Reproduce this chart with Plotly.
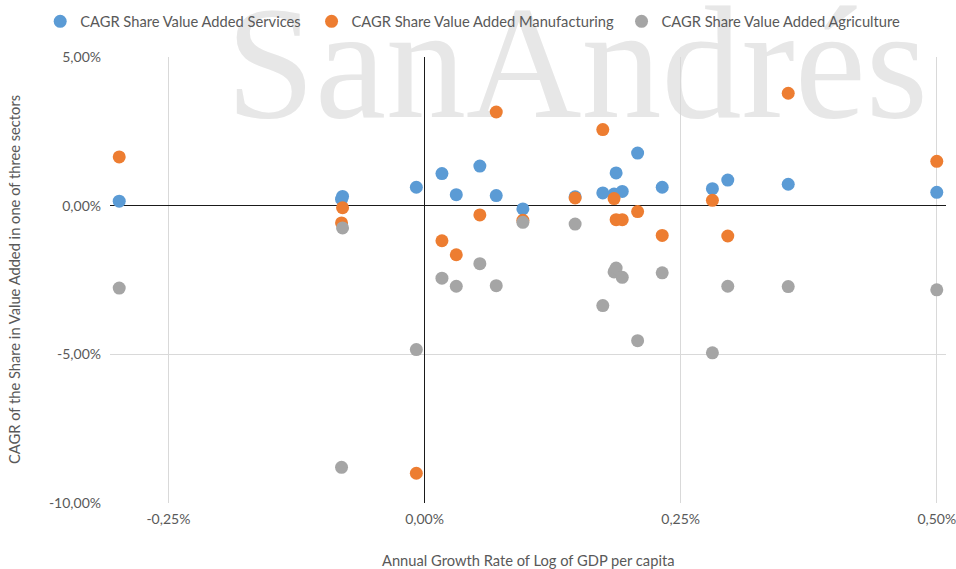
import plotly.graph_objects as go

# Annual growth rate of log GDP per capita (%), one value per country
gdp_growth = [-0.298, -0.080, -0.081, -0.008, 0.017, 0.031, 0.054, 0.070, 0.096, 0.147,
              0.174, 0.185, 0.187, 0.193, 0.208, 0.232, 0.281, 0.296, 0.355, 0.500]

# CAGR of the share in value added (%), per sector
cagr_services = [0.15, 0.31, 0.22, 0.62, 1.08, 0.37, 1.33, 0.34, -0.11, 0.30,
                 0.43, 0.39, 1.10, 0.48, 1.77, 0.62, 0.57, 0.86, 0.72, 0.45]
cagr_manufacturing = [1.64, -0.07, -0.58, -9.00, -1.18, -1.65, -0.31, 3.15, -0.49, 0.26,
                      2.56, 0.24, -0.47, -0.47, -0.20, -1.00, 0.18, -1.02, 3.78, 1.49]
cagr_agriculture = [-2.77, -0.75, -8.80, -4.84, -2.44, -2.71, -1.95, -2.69, -0.56, -0.62,
                    -3.36, -2.23, -2.10, -2.41, -4.54, -2.26, -4.95, -2.71, -2.72, -2.83]

series_names = ["CAGR Share Value Added Services",
                "CAGR Share Value Added Manufacturing",
                "CAGR Share Value Added Agriculture"]
series_colors = ["#5B9BD5", "#ED7D31", "#A5A5A5"]

x_tick_vals = [-0.25, 0.0, 0.25, 0.50]
x_tick_text = ["-0,25%", "0,00%", "0,25%", "0,50%"]
y_tick_vals = [-10, -5, 0, 5]
y_tick_text = ["-10,00%", "-5,00%", "0,00%", "5,00%"]

TEXT = "#595959"
FONT = "Lato"
LABEL_SIZE = 14.7

# each series gets its own legend box so the three entries sit at fixed spots
legend_ids = ["legend", "legend2", "legend3"]
legend_x = [-0.0835, 0.2411, 0.6119]

fig = go.Figure()
for name, ys, col, lid in zip(series_names,
                              [cagr_services, cagr_manufacturing, cagr_agriculture],
                              series_colors, legend_ids):
    fig.add_trace(go.Scatter(
        x=gdp_growth, y=ys, mode="markers", name=name, legend=lid,
        marker=dict(size=13, color=col, line=dict(width=0)),
    ))

# faint institutional wordmark behind the grid
shift = 13 / 446
fig.add_shape(
    type="rect", xref="paper", yref="paper",
    x0=(232 - 110) / 836, x1=(922 - 110) / 836,
    y0=(503 - 117) / 446 + shift, y1=(503 - 0) / 446 + shift,
    line=dict(width=0), fillcolor="rgba(0,0,0,0)", layer="below",
    label=dict(text="SanAndrés", textposition="middle center",
               font=dict(family="Liberation Serif", size=160, color="#e7e7e7")),
)

fig.add_annotation(
    text="CAGR of the Share in Value Added in one of three sectors",
    xref="paper", yref="paper", x=0, y=0.5, xshift=-96, textangle=-90,
    showarrow=False, font=dict(family=FONT, size=LABEL_SIZE, color=TEXT),
    xanchor="center", yanchor="middle",
)
fig.add_annotation(
    text="Annual Growth Rate of Log of GDP per capita",
    xref="paper", yref="paper", x=0.5, y=0, yshift=-57,
    showarrow=False, font=dict(family=FONT, size=LABEL_SIZE, color=TEXT),
    xanchor="center", yanchor="middle",
)

legend_style = dict(orientation="h", y=1.116, xanchor="left", yanchor="top",
                    font=dict(family=FONT, size=LABEL_SIZE, color=TEXT),
                    bgcolor="rgba(0,0,0,0)")

fig.update_layout(
    width=956, height=569,
    margin=dict(l=110, r=10, t=57, b=66, autoexpand=False),
    paper_bgcolor="white", plot_bgcolor="rgba(0,0,0,0)",
    font=dict(family=FONT, size=14, color=TEXT),
    showlegend=True,
    legend=dict(x=legend_x[0], **legend_style),
    legend2=dict(x=legend_x[1], **legend_style),
    legend3=dict(x=legend_x[2], **legend_style),
    xaxis=dict(range=[-0.307, 0.509], tickmode="array", tickvals=x_tick_vals,
               ticktext=x_tick_text, showgrid=True, gridcolor="#d9d9d9", gridwidth=1,
               zeroline=True, zerolinecolor="#1a1a1a", zerolinewidth=1,
               showline=False, ticks="", ticklabelstandoff=6,
               ticklabeloverflow="allow", automargin=False),
    yaxis=dict(range=[-10, 5], tickmode="array", tickvals=y_tick_vals,
               ticktext=y_tick_text, showgrid=True, gridcolor="#d9d9d9", gridwidth=1,
               zeroline=True, zerolinecolor="#1a1a1a", zerolinewidth=1,
               showline=False, ticks="", ticklabelstandoff=8, automargin=False),
)

fig.write_html("out.html")
